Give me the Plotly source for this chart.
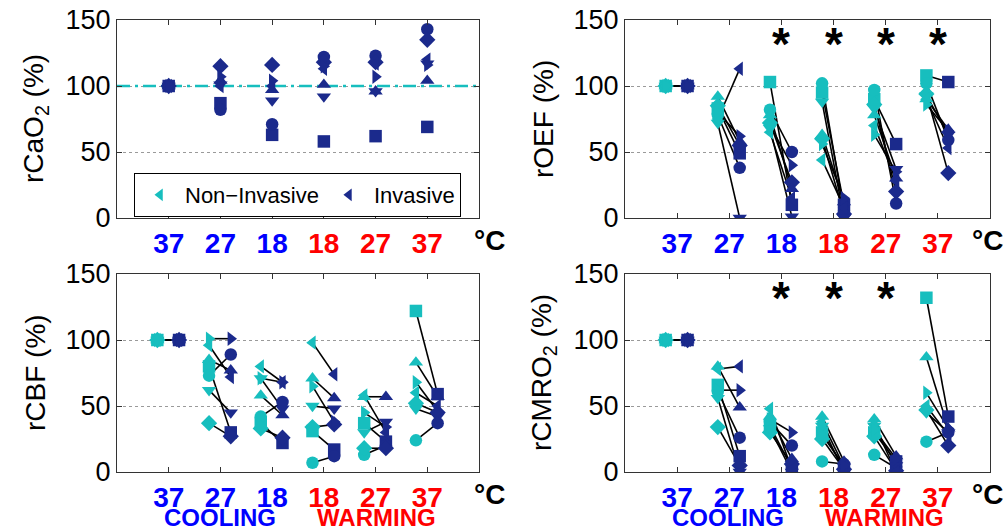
import plotly.graph_objects as go

# ---------------- data ----------------
temps = ["37", "27", "18", "18", "27", "37"]
temp_colors = ["#0000FF", "#0000FF", "#0000FF", "#FF0000", "#FF0000", "#FF0000"]
phase_labels = ["COOLING", "WARMING"]
symbols = ["square", "circle", "diamond", "triangle-up", "triangle-down", "triangle-left", "triangle-right"]

# rows = temperature step, columns = subject (square, circle, diamond, up, down, left, right)
rcao2_inv = [
    [100, 100, 100, 100, 100, 100, 100],
    [87, 82, 115, 104, 101, 100, 107],
    [63, 71, 116, 97, 89, 100, 104],
    [58, 122, 118, 101, 92, 113, 115],
    [62, 123, 118, 96, 96, 117, 107],
    [69, 143, 135, 104, 117, 120, 116],
]

roef_non = [
    [100, 100, 100, 100, 100, 100, 100],
    [83, 78, 85, 92, 72, 75, 80],
    [103, 82, 72, 78, 68, 65, 70],
    [95, 102, 60, 63, 88, 44, 56],
    [90, 97, 86, 78, 83, 70, 63],
    [108, 102, 94, 90, 93, 90, 86],
]
roef_inv = [
    [100, 100, 100, 100, 100, 100, 100],
    [49, 38, 55, 58, 0, 113, 62],
    [10, 50, 27, 22, 1, 15, 40],
    [10, 5, 3, 12, 0, 8, 15],
    [56, 11, 20, 30, 37, 28, 35],
    [103, 59, 34, 67, 63, 53, 66],
]

rcbf_non = [
    [100, 100, 100, 100, 100, 100, 100],
    [80, 73, 37, 85, 62, 96, 101],
    [37, 42, 33, 58, 71, 80, 71],
    [31, 7, 34, 71, 50, 98, 65],
    [37, 13, 18, 57, 30, 58, 45],
    [122, 24, 52, 83, 48, 60, 68],
]
rcbf_inv = [
    [100, 100, 100, 100, 100, 100, 100],
    [30, 89, 27, 77, 45, 72, 101],
    [22, 53, 26, 43, 48, 68, 68],
    [17, 12, 36, 56, 48, 74, 38],
    [23, 20, 18, 57, 38, 30, 34],
    [59, 37, 45, 57, 42, 50, 46],
]

rcmro2_non = [
    [100, 100, 100, 100, 100, 100, 100],
    [66, 61, 34, 80, 56, 78, 62],
    [35, 38, 30, 42, 33, 48, 40],
    [30, 8, 25, 42, 35, 38, 28],
    [30, 13, 27, 40, 35, 36, 32],
    [132, 23, 47, 87, 45, 50, 60],
]
rcmro2_inv = [
    [100, 100, 100, 100, 100, 100, 100],
    [12, 26, 5, 49, 0, 80, 62],
    [3, 20, 6, 10, 0, 2, 30],
    [3, 6, 2, 8, 0, 4, 5],
    [8, 3, 1, 12, 5, 0, 10],
    [42, 30, 20, 33, 30, 28, 33],
]

titles = ["rCaO<sub>2</sub> (%)", "rOEF (%)", "rCBF (%)", "rCMRO<sub>2</sub> (%)"]

# ---------------- style ----------------
CYAN = "#17BEBE"
NAVY = "#1B2A8C"
OFF_N = -0.22
OFF_I = 0.20
MS = 12.5
W, H = 1007, 531
FONT = "Liberation Sans, Arial"

fig = go.Figure()
xs = list(range(1, len(temps) + 1))


def add_pair_panel(non, inv, xa, ya):
    lx, ly = [], []
    for i, x in enumerate(xs):
        for j in range(len(symbols)):
            lx += [x + OFF_N, x + OFF_I, None]
            ly += [non[i][j], inv[i][j], None]
    fig.add_trace(go.Scatter(x=lx, y=ly, mode="lines", line=dict(color="black", width=1.6),
                             xaxis=xa, yaxis=ya, showlegend=False, hoverinfo="skip"))
    for j, s in enumerate(symbols):
        fig.add_trace(go.Scatter(x=[x + OFF_N for x in xs], y=[r[j] for r in non], mode="markers",
                                 marker=dict(symbol=s, size=MS, color=CYAN, line=dict(width=0)),
                                 xaxis=xa, yaxis=ya, showlegend=False))
    for j, s in enumerate(symbols):
        fig.add_trace(go.Scatter(x=[x + OFF_I for x in xs], y=[r[j] for r in inv], mode="markers",
                                 marker=dict(symbol=s, size=MS, color=NAVY, line=dict(width=0)),
                                 xaxis=xa, yaxis=ya, showlegend=False))


# panel 1: rCaO2 (invasive only) + reference line
fig.add_trace(go.Scatter(x=[0, 7], y=[100, 100], mode="lines",
                         line=dict(color=CYAN, width=2.5, dash="13px,5px,3px,5px"),
                         xaxis="x", yaxis="y", showlegend=False, hoverinfo="skip"))
for j, s in enumerate(symbols):
    fig.add_trace(go.Scatter(x=xs, y=[r[j] for r in rcao2_inv], mode="markers",
                             marker=dict(symbol=s, size=MS, color=NAVY, line=dict(width=0)),
                             xaxis="x", yaxis="y", showlegend=False))

add_pair_panel(roef_non, roef_inv, "x2", "y2")
add_pair_panel(rcbf_non, rcbf_inv, "x3", "y3")
add_pair_panel(rcmro2_non, rcmro2_inv, "x4", "y4")

# legend entries
fig.add_trace(go.Scatter(x=[None], y=[None], mode="markers", name="Non\u2212Invasive",
                         marker=dict(symbol="triangle-left", size=11, color=CYAN), xaxis="x", yaxis="y"))
fig.add_trace(go.Scatter(x=[None], y=[None], mode="markers", name="Invasive",
                         marker=dict(symbol="triangle-left", size=11, color=NAVY), xaxis="x", yaxis="y"))

# asterisks (significance)
stars = [("x2", "y2", [3, 4, 5, 6]), ("x4", "y4", [3, 4, 5])]
annotations = []
for xa, ya, pos in stars:
    for p in pos:
        annotations.append(dict(x=p, y=132, xref=xa, yref=ya, text="<b>*</b>", showarrow=False,
                                font=dict(size=46, color="black", family=FONT),
                                xanchor="center", yanchor="middle"))

# layout geometry (pixels)
L_left, L_right = 117, 479
R_left, R_right = 625, 990
T_top, T_bot = 20, 218
B_top, B_bot = 274, 472


def px(v):
    return v / W


def py(v):
    return 1 - v / H


ticktext = ["<span style='color:%s'><b>%s</b></span>" % (c, t) for t, c in zip(temps, temp_colors)]

common_x = dict(range=[0, 7], tickvals=xs, ticktext=ticktext, ticks="inside", ticklen=5,
                tickcolor="#333", showline=True, linecolor="#333", linewidth=1, mirror="ticks",
                showgrid=False, zeroline=False, automargin=False,
                tickfont=dict(size=28, family=FONT))
common_y = dict(range=[0, 150], tickvals=[0, 50, 100, 150], ticks="inside", ticklen=5,
                tickcolor="#333", showline=True, linecolor="#333", linewidth=1, mirror="ticks",
                showgrid=True, gridcolor="#9a9a9a", griddash="dot", gridwidth=1, zeroline=False,
                automargin=False,
                tickfont=dict(size=27, color="black", family=FONT))

layout = dict(width=W, height=H, margin=dict(l=0, r=0, t=0, b=0, autoexpand=False),
              plot_bgcolor="white", paper_bgcolor="white", showlegend=True)
panels = [(1, L_left, L_right, T_top, T_bot, 489), (2, R_left, R_right, T_top, T_bot, 987),
          (3, L_left, L_right, B_top, B_bot, 489), (4, R_left, R_right, B_top, B_bot, 987)]
for k, x0, x1, y0, y1, degx in panels:
    sfx = "" if k == 1 else str(k)
    layout["xaxis" + sfx] = dict(common_x, domain=[px(x0), px(x1)], anchor="y" + sfx)
    layout["yaxis" + sfx] = dict(common_y, domain=[py(y1), py(y0)], anchor="x" + sfx)
    # y titles
    annotations.append(dict(x=px(x0 - 82), y=py((y0 + y1) / 2), xref="paper", yref="paper",
                            text=titles[k - 1], textangle=-90, showarrow=False,
                            xanchor="center", yanchor="middle",
                            font=dict(size=28, color="black", family=FONT)))
    # degree label
    annotations.append(dict(x=px(degx), y=py(y1 + 22), xref="paper", yref="paper",
                            text="<b>\u00b0C</b>", showarrow=False,
                            xanchor="center", yanchor="middle",
                            font=dict(size=28, color="black", family=FONT)))

for x0 in (L_left, R_left):
    annotations.append(dict(x=px(x0 + 103), y=py(517), xref="paper", yref="paper",
                            text="<b>%s</b>" % phase_labels[0], showarrow=False,
                            xanchor="center", yanchor="middle",
                            font=dict(size=24, color="#0000FF", family=FONT)))
    annotations.append(dict(x=px(x0 + 259), y=py(517), xref="paper", yref="paper",
                            text="<b>%s</b>" % phase_labels[1], showarrow=False,
                            xanchor="center", yanchor="middle",
                            font=dict(size=24, color="#FF0000", family=FONT)))

layout["annotations"] = annotations
layout["legend"] = dict(orientation="h", x=px(134), y=py(173), xanchor="left", yanchor="top",
                        bordercolor="black", borderwidth=1, bgcolor="white",
                        font=dict(size=22, color="black", family=FONT),
                        itemwidth=40)
fig.update_layout(**layout)
fig.write_html("out.html")
